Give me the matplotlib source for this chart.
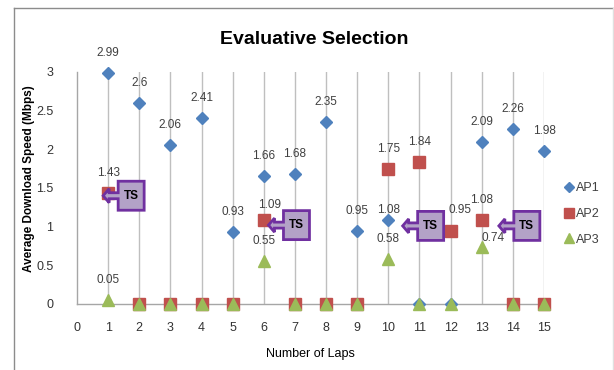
import matplotlib
matplotlib.use('Agg')
import matplotlib.pyplot as plt
import matplotlib.transforms as mtransforms
from matplotlib.lines import Line2D
from matplotlib.patches import Polygon

laps = list(range(1, 16))
ap1 = [2.99, 2.6, 2.06, 2.41, 0.93, 1.66, 1.68, 2.35, 0.95, 1.08, 0, 0, 2.09, 2.26, 1.98]
ap2 = [1.43, 0, 0, 0, 0, 1.09, 0, 0, 0, 1.75, 1.84, 0.95, 1.08, 0, 0]
ap3 = [0.05, 0, 0, 0, 0, 0.55, 0, 0, 0, 0.58, 0, 0, 0.74, 0, 0]
series_names = ['AP1', 'AP2', 'AP3']
x_ticks = list(range(0, 16))
y_ticks = [0, 0.5, 1, 1.5, 2, 2.5, 3]
y_ticklabels = ['0', '0.5', '1', '1.5', '2', '2.5', '3']
# "TS" callouts: where each arrow tip points (lap, speed)
ts_tips = [(0.84, 1.40), (6.15, 1.02), (10.46, 1.01), (13.55, 1.01)]

# label position in pixels from the marker: (dx, height above); default (0, 20)
label_pos = {(1, 6): (6, 15), (1, 12): (9, 21), (2, 13): (11, 9), (0, 10): (0, 10)}

plt.rcParams['font.family'] = ['Liberation Sans', 'DejaVu Sans']
PT = 0.72  # points per pixel at 100 dpi

fig = plt.figure(figsize=(6.14, 3.70), dpi=100)
ax = fig.add_axes([77 / 614, 1 - 304 / 370, (544 - 77) / 614, (304 - 72) / 370])

colors = ['#4F81BD', '#C0504D', '#9BBB59']
markers = ['D', 's', '^']
sizes = [6, 8, 8.5]
for i, vals in enumerate([ap1, ap2, ap3]):
    ax.plot(laps, vals, linestyle='none', marker=markers[i], color=colors[i],
            markersize=sizes[i], clip_on=False, zorder=3 + i, label=series_names[i])
    for x, v in zip(laps, vals):
        if v == 0:
            continue
        dx, up = label_pos.get((i, x), (0, 20))
        ax.annotate(f'{v:g}', (x, v), xytext=(dx * PT, up * PT),
                    textcoords='offset points', ha='center', va='center',
                    fontsize=8.5, color='#404040', zorder=6)

ax.set_xlim(0, 15)
ax.set_ylim(0, 3)
ax.set_xticks(x_ticks)
ax.set_yticks(y_ticks, y_ticklabels)
ax.tick_params(length=0, labelsize=9, colors='#333333')
ax.tick_params(axis='x', pad=13)
ax.tick_params(axis='y', pad=17)
for x in laps:
    ax.axvline(x, color='#BFBFBF', linewidth=1, zorder=1)
for s in ['top', 'right']:
    ax.spines[s].set_visible(False)
for s in ['left', 'bottom']:
    ax.spines[s].set_color('#A6A6A6')
    ax.spines[s].set_linewidth(1)

ax.set_xlabel('Number of Laps', fontsize=9)
ax.set_ylabel('Average Download Speed (Mbps)', fontsize=8.5, fontweight='bold')
ax.xaxis.set_label_coords(0.5, -0.19)
ax.yaxis.set_label_coords(-0.09, 0.54)
fig.text(314 / 614, 1 - 40 / 370, 'Evaluative Selection', fontsize=14, fontweight='bold',
         ha='center', va='center', color='black')

# callout shapes, in pixel offsets from the arrow tip
shape = [(0, 0), (6, 7), (6, 3), (15, 3), (15, 14.5), (41, 14.5), (41, -14.5),
         (15, -14.5), (15, -3), (6, -3), (6, -7)]
for tx, ty in ts_tips:
    tr = mtransforms.Affine2D() + mtransforms.ScaledTranslation(tx, ty, ax.transData)
    ax.add_patch(Polygon(shape, closed=True, transform=tr, facecolor='#B3A2C7',
                         edgecolor='#7030A0', linewidth=2, zorder=7, clip_on=False))
    ax.text(28, 0, 'TS', transform=tr, ha='center', va='center', fontsize=8.5,
            fontweight='bold', color='black', zorder=8)

handles = [Line2D([], [], linestyle='none', marker=markers[i], color=colors[i],
                  markersize=sizes[i] - 1) for i in range(3)]
fig.legend(handles, series_names, loc='center left', bbox_to_anchor=(560 / 614, 1 - 214 / 370),
           frameon=False, fontsize=9, handlelength=0.6, handletextpad=0.3,
           labelspacing=1.1, borderaxespad=0, labelcolor='#404040')

fig.add_artist(Line2D([14 / 614, 1], [1 - 8 / 370] * 2, color='#8C8C8C', linewidth=1))
fig.add_artist(Line2D([14 / 614] * 2, [0, 1 - 8 / 370], color='#8C8C8C', linewidth=1))
fig.add_artist(Line2D([613 / 614] * 2, [0, 1 - 8 / 370], color='#E0E0E0', linewidth=1))

fig.savefig('out.png', dpi=100)
